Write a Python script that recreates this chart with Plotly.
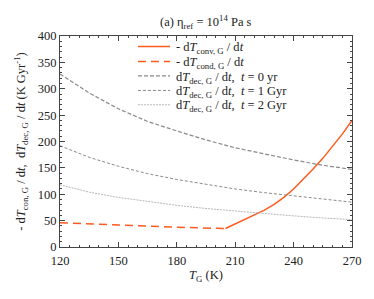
import plotly.graph_objects as go

# Data
T_dec = [120, 135, 150, 165, 180, 195, 210, 225, 240, 255, 270]
dec_0yr = [328, 292, 262, 238, 220, 203, 188, 176, 165, 155, 147]
dec_1gyr = [192, 170, 153, 139, 128, 119, 110, 103, 97, 91, 85]
dec_2gyr = [118, 104, 94, 86, 79, 73, 68, 63, 59, 55, 52]

T_cond = [120, 135, 150, 165, 180, 195, 205]
cond = [46, 43.5, 41.5, 39.5, 37.5, 36, 35]

T_conv = [205, 210, 215, 220, 225, 230, 235, 240, 245, 250, 255, 260, 265, 270]
conv = [35, 44, 53, 61, 70, 81, 94, 110, 128, 148, 168, 190, 214, 240]

x_ticks = [120, 150, 180, 210, 240, 270]
y_ticks = [0, 50, 100, 150, 200, 250, 300, 350, 400]

labels = [
    "- d<i>T</i><sub>conv, G</sub> / d<i>t</i>",
    "- d<i>T</i><sub>cond, G</sub> / d<i>t</i>",
    "d<i>T</i><sub>dec, G</sub> / d<i>t</i>,  <i>t</i> = 0 yr",
    "d<i>T</i><sub>dec, G</sub> / d<i>t</i>,  <i>t</i> = 1 Gyr",
    "d<i>T</i><sub>dec, G</sub> / d<i>t</i>,  <i>t</i> = 2 Gyr",
]

FONT = "Liberation Serif"
ORANGE = "#ff5a1f"
styles = [
    dict(color=ORANGE, width=1.5),
    dict(color=ORANGE, width=1.5, dash="8px,5px"),
    dict(color="#8a8a8a", width=1.2, dash="4px,2px"),
    dict(color="#8a8a8a", width=1, dash="3px,2px"),
    dict(color="#b8b8b8", width=1, dash="2px,1px"),
]

series = [(T_conv, conv), (T_cond, cond), (T_dec, dec_0yr), (T_dec, dec_1gyr), (T_dec, dec_2gyr)]

fig = go.Figure()
for (xs, ys), st, lab in zip(series, styles, labels):
    fig.add_trace(go.Scatter(x=xs, y=ys, mode="lines", line=st, name=lab, showlegend=False))

# manual legend (compact row spacing like the reference)
leg_rows = [0.950, 0.879, 0.811, 0.742, 0.674]
for st, lab, yy in zip(styles, labels, leg_rows):
    fig.add_shape(type="line", xref="paper", yref="paper",
                  x0=0.267, x1=0.377, y0=yy, y1=yy, line=st)
    fig.add_annotation(xref="paper", yref="paper", x=0.392, y=yy - 0.008,
                       xanchor="left", yanchor="middle", text=lab, showarrow=False,
                       font=dict(family=FONT, size=12.5, color="#222"))

fig.add_annotation(xref="paper", yref="paper", x=0.5, y=1.068, xanchor="center",
                   yanchor="middle", showarrow=False,
                   text="(a) η<sub>ref</sub> = 10<sup>14</sup> Pa s",
                   font=dict(family=FONT, size=12.5, color="#222"))

axis_common = dict(showline=True, linecolor="#444", linewidth=1, mirror="allticks",
                   ticks="inside", ticklen=5, tickcolor="#444",
                   showgrid=False, zeroline=False,
                   tickfont=dict(family=FONT, size=12.5, color="#222"))

fig.update_layout(
    width=366, height=283,
    margin=dict(l=52, r=22, t=28, b=44),
    paper_bgcolor="white", plot_bgcolor="white",
    font=dict(family=FONT, size=12, color="#222"),
    showlegend=False,
)
fig.update_xaxes(range=[120, 270], tickvals=x_ticks, ticklabelstandoff=2,
                 minor=dict(dtick=5, ticks="inside", ticklen=2, tickcolor="#444"),
                 title=dict(text="<i>T</i><sub>G</sub> (K)", font=dict(family=FONT, size=12.5),
                            standoff=3),
                 **axis_common)
fig.update_yaxes(range=[0, 400], tickvals=y_ticks,
                 minor=dict(dtick=10, ticks="inside", ticklen=2, tickcolor="#444"),
                 title=dict(text="- d<i>T</i><sub>con, G</sub> / d<i>t</i>,  d<i>T</i><sub>dec, G</sub> / d<i>t</i> (K Gyr<sup>-1</sup>)",
                            font=dict(family=FONT, size=12.5), standoff=9),
                 **axis_common)

fig.write_html("out.html")
